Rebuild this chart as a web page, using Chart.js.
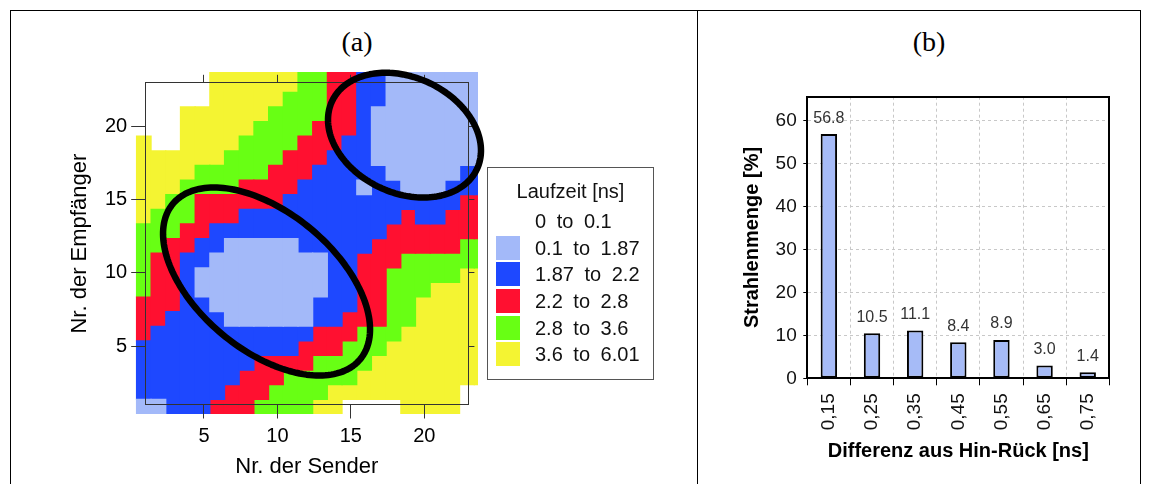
<!DOCTYPE html>
<html>
<head>
<meta charset="utf-8">
<script src="https://cdn.jsdelivr.net/npm/chart.js@4.4.1/dist/chart.umd.min.js"></script>
<style>
  html, body { margin: 0; padding: 0; background: #fff; }
  body { width: 1151px; height: 484px; position: relative; overflow: hidden; font-family: "Liberation Sans", Arial, sans-serif; }
  .rule { position: absolute; background: #000; }
  .cap { position: absolute; top: 28px; line-height: 28px; font-size: 28px; font-family: "Liberation Serif", serif; transform: translateX(-50%); }
  canvas { position: absolute; top: 0; }
  #legend { position: absolute; left: 487px; top: 167px; width: 167px; height: 213px; border: 1px solid #555; box-sizing: border-box; color: #111; }
  #legend .title { position: absolute; left: 0; right: 0; top: 11px; text-align: center; font-size: 20px; line-height: 24px; }
  #legend .row { position: absolute; left: 0; right: 0; height: 26px; }
  #legend .swatch { position: absolute; left: 8px; top: 1px; width: 24px; height: 24px; }
  #legend .text { position: absolute; left: 47px; top: 0; font-size: 20px; line-height: 26px; word-spacing: 5px; white-space: pre; }
</style>
</head>
<body>
<div class="rule" style="left:10px; top:10px; width:1131px; height:1px;"></div>
<div class="rule" style="left:10px; top:10px; width:1px; height:474px;"></div>
<div class="rule" style="left:697px; top:10px; width:1px; height:474px;"></div>
<div class="rule" style="left:1140px; top:10px; width:1px; height:474px;"></div>
<div class="cap" style="left:357px;">(a)</div>
<div class="cap" style="left:929px;">(b)</div>
<canvas id="heat" width="690" height="484" style="left:0;"></canvas>
<div id="legend"><div class="title">Laufzeit [ns]</div></div>
<canvas id="bars" width="442" height="484" style="left:698px;"></canvas>
<script>
// (a) travel time map: sender x receiver
const senderTicks = [5, 10, 15, 20];
const receiverTicks = [5, 10, 15, 20];
const classCodes = ['W', 'L', 'B', 'R', 'G', 'Y'];
const classLabels = ['0 to 0.1', '0.1 to 1.87', '1.87 to 2.2', '2.2 to 2.8', '2.8 to 3.6', '3.6 to 6.01'];
const classColors = ['#ffffff', '#a3b9f9', '#1e48ff', '#ff1030', '#68ff14', '#f4f432'];

// one string per receiver row, top row first, one letter per sender column
const cellRows = [
  'WWWWWYYYYYYGGRRBBLLLLLLL',
  'WWWWWYYYYYYGGRRBBLLLLLLL',
  'WWWWWYYYYYGGGRRBBLLLLLLL',
  'WWWYYYYYYGGGGRRBLLLLLLLL',
  'WWWYYYYYGGGGRRRBLLLLLLLL',
  'YWWYYYYGGGGRRRBBLLLLLLLL',
  'YYYYYYGGGGRRRBBBLLLLLLLL',
  'YYYYGGGGGRRRBBBBBLLLLLBB',
  'YYYGGGGRRRRBBBBLBBLLLBBB',
  'YYGGRRRRRRBBBBBBBBBBBBRR',
  'YGGGRRRBBBBBBBBBBBRBBRRR',
  'GGGRRBBBBBBBBBBBBRRRRRRR',
  'GGRRBBLLLLLBBBBBRRRRRRGG',
  'GRRBBLLLLLLLLBBRRRGGGGGG',
  'GRRBLLLLLLLLLBBRRGGGGGYY',
  'GRRBLLLLLLLLLBBRRGGGYYYY',
  'RRRBBLLLLLLLBBBRRGGYYYYY',
  'RRBBBBLLLLLLBBRRRGGYYYYY',
  'RBBBBBBBBBBBRRRGGGYYYYYY',
  'BBBBBBBBBBBRRRGGGYYYYYYY',
  'BBBBBBBBRRRRGGGGYYYYYYYY',
  'BBBBBBBRRRGGGGGYYYYYYYYY',
  'BBBBBBRRRGGGGYYYYYYYYYWW',
  'LLBBBRRRGGGGYYWWWWYYYYWW'
];
const firstColumn = 0.9;   // centre of the first sender column
const firstRow = 0.85;     // centre of the lowest receiver row

// hand-drawn ellipses (data units)
const ellipseCx = [9.26, 18.65];
const ellipseCy = [9.41, 19.42];
const ellipseA = [8.3, 5.45];
const ellipseB = [4.7, 3.95];
const ellipseTilt = [-39.9, -25.4];

// (b) difference histogram
const diffLabels = ['0,15', '0,25', '0,35', '0,45', '0,55', '0,65', '0,75'];
const rayShare = [56.8, 10.5, 11.1, 8.4, 8.9, 3.0, 1.4];
const shareTicks = [0, 10, 20, 30, 40, 50, 60];

Chart.defaults.font.family = '"Liberation Sans", Arial, sans-serif';
Chart.defaults.color = '#000';

const frameColor = '#333';
const gridGray = '#c8c8c8';

// legend of panel (a)
const legendBox = document.getElementById('legend');
classLabels.forEach((label, k) => {
  const row = document.createElement('div');
  row.className = 'row';
  row.style.top = (40 + 26.65 * k) + 'px';
  if (classCodes[k] !== 'W') {
    const sw = document.createElement('div');
    sw.className = 'swatch';
    sw.style.background = classColors[k];
    row.appendChild(sw);
  }
  const tx = document.createElement('div');
  tx.className = 'text';
  tx.textContent = label;
  row.appendChild(tx);
  legendBox.appendChild(row);
});

// merge vertical runs of the same class into floating bars
const heatDatasets = classCodes.map((code, k) => {
  const runs = [];
  for (let i = 0; i < cellRows[0].length; i++) {
    let j = 0;
    while (j < cellRows.length) {
      const c = cellRows[cellRows.length - 1 - j][i];
      let e = j;
      while (e + 1 < cellRows.length && cellRows[cellRows.length - 2 - e][i] === c) e++;
      if (c === code) runs.push({ x: firstColumn + i, y: [firstRow + j - 0.5, firstRow + e + 0.5] });
      j = e + 1;
    }
  }
  return {
    label: classLabels[k],
    data: runs,
    hidden: code === 'W',
    backgroundColor: classColors[k],
    borderWidth: 0,
    grouped: false,
    categoryPercentage: 1,
    barPercentage: 1,
    inflateAmount: 0.6,
    clip: { left: 9.5, top: 10.8, right: 9.6, bottom: 9.5 },
    xAxisID: 'x',
    yAxisID: 'y'
  };
});

const ellipsePlugin = {
  id: 'ellipses',
  afterDraw(chart) {
    const { ctx, scales: { x, y } } = chart;
    ctx.save();
    ctx.strokeStyle = '#000';
    ctx.lineWidth = 6.5;
    ctx.lineJoin = 'round';
    ellipseCx.forEach((cx, k) => {
      const r = ellipseTilt[k] * Math.PI / 180;
      ctx.beginPath();
      for (let s = 0; s <= 180; s++) {
        const t = s / 180 * 2 * Math.PI;
        const dx = ellipseA[k] * Math.cos(t) * Math.cos(r) - ellipseB[k] * Math.sin(t) * Math.sin(r);
        const dy = ellipseA[k] * Math.cos(t) * Math.sin(r) + ellipseB[k] * Math.sin(t) * Math.cos(r);
        const px = x.getPixelForValue(cx + dx);
        const py = y.getPixelForValue(ellipseCy[k] + dy);
        if (s === 0) ctx.moveTo(px, py); else ctx.lineTo(px, py);
      }
      ctx.closePath();
      ctx.stroke();
    });
    ctx.restore();
  }
};

// frame axes are drawn above the cells (grid / border layers with z > 0)
function frameAxis(position, tickLength, extra) {
  return Object.assign({
    type: 'linear', min: 1, max: 23, offset: false, position,
    grid: { offset: false, drawOnChartArea: false, drawTicks: true, tickLength, color: frameColor, tickColor: frameColor, z: 1 },
    border: { display: true, color: frameColor, width: 1, z: 1 }
  }, extra);
}

new Chart(document.getElementById('heat'), {
  type: 'bar',
  data: { datasets: heatDatasets },
  options: {
    responsive: false,
    animation: false,
    events: [],
    layout: { padding: 0 },
    plugins: { legend: { display: false }, tooltip: { enabled: false } },
    scales: {
      x: frameAxis('bottom', 14, {
        afterBuildTicks: s => { s.ticks = senderTicks.map(v => ({ value: v })); },
        afterFit: s => { s.height = 79.5; },
        ticks: { font: { size: 20 }, padding: 6, maxRotation: 0, z: 1 },
        title: { display: true, text: 'Nr. der Sender', font: { size: 22 }, padding: { top: 0, bottom: 4 } }
      }),
      y: frameAxis('left', 14, {
        afterBuildTicks: s => { s.ticks = receiverTicks.map(v => ({ value: v })); },
        afterFit: s => { s.width = 145.2; },
        ticks: { font: { size: 20 }, padding: 4, z: 1 },
        title: { display: true, text: 'Nr. der Empfänger', font: { size: 22 }, padding: { top: 67, bottom: 0 } }
      }),
      xTop: frameAxis('top', 8, {
        afterBuildTicks: s => { s.ticks = senderTicks.map(v => ({ value: v })); },
        afterFit: s => { s.height = 82.8; },
        ticks: { display: false }
      }),
      yRight: frameAxis('right', 6, {
        afterBuildTicks: s => { s.ticks = receiverTicks.map(v => ({ value: v })); },
        afterFit: s => { s.width = 221.6; },
        ticks: { display: false }
      })
    }
  },
  plugins: [ellipsePlugin]
});

const valueLabels = {
  id: 'valueLabels',
  afterDatasetsDraw(chart) {
    const { ctx } = chart;
    const meta = chart.getDatasetMeta(0);
    ctx.save();
    ctx.font = '16px "Liberation Sans", Arial, sans-serif';
    ctx.fillStyle = '#333';
    ctx.textAlign = 'center';
    ctx.textBaseline = 'middle';
    meta.data.forEach((bar, i) => ctx.fillText(rayShare[i].toFixed(1), bar.x, bar.y - 16));
    ctx.restore();
  }
};

new Chart(document.getElementById('bars'), {
  type: 'bar',
  data: {
    labels: diffLabels,
    datasets: [{
      data: rayShare,
      backgroundColor: '#a6bbf7',
      borderColor: '#000',
      borderWidth: 2,
      borderSkipped: false,
      categoryPercentage: 1,
      barPercentage: 0.38
    }]
  },
  options: {
    responsive: false,
    animation: false,
    events: [],
    layout: { padding: 0 },
    plugins: { legend: { display: false }, tooltip: { enabled: false } },
    scales: {
      x: {
        position: 'bottom',
        afterFit: s => { s.height = 105.7; },
        grid: {
          color: c => (c.index === 0 || c.index === diffLabels.length) ? 'rgba(0,0,0,0)' : gridGray,
          tickColor: '#000', tickLength: 7
        },
        border: { display: true, color: '#000', width: 2, dash: [3, 3] },
        ticks: { minRotation: 90, maxRotation: 90, padding: 8, font: { size: 19 }, color: '#111' },
        title: { display: true, text: 'Differenz aus Hin-Rück [ns]', font: { size: 20, weight: 'bold' }, padding: { top: 0, bottom: 21 } }
      },
      x2: {
        position: 'top',
        afterFit: s => { s.height = 96.7; },
        grid: { display: false },
        ticks: { display: false },
        border: { display: true, color: '#000', width: 2 }
      },
      y: {
        position: 'left',
        min: 0,
        max: 65.5,
        afterBuildTicks: s => { s.ticks = shareTicks.map(v => ({ value: v })); },
        afterFit: s => { s.width = 109.3; },
        grid: {
          color: c => (c.tick && c.tick.value === 0) ? 'rgba(0,0,0,0)' : gridGray,
          tickColor: '#000', tickLength: 4
        },
        border: { display: true, color: '#000', width: 2, dash: [3, 3] },
        ticks: { padding: 6.6, font: { size: 19 }, color: '#111' },
        title: { display: true, text: 'Strahlenmenge [%]', font: { size: 20, weight: 'bold' }, padding: { top: 42, bottom: 0 } }
      },
      y2: {
        position: 'right',
        min: 0,
        max: 65.5,
        afterFit: s => { s.width = 30.7; },
        grid: { display: false },
        ticks: { display: false },
        border: { display: true, color: '#000', width: 2 }
      }
    }
  },
  plugins: [valueLabels]
});
</script>
</body>
</html>
